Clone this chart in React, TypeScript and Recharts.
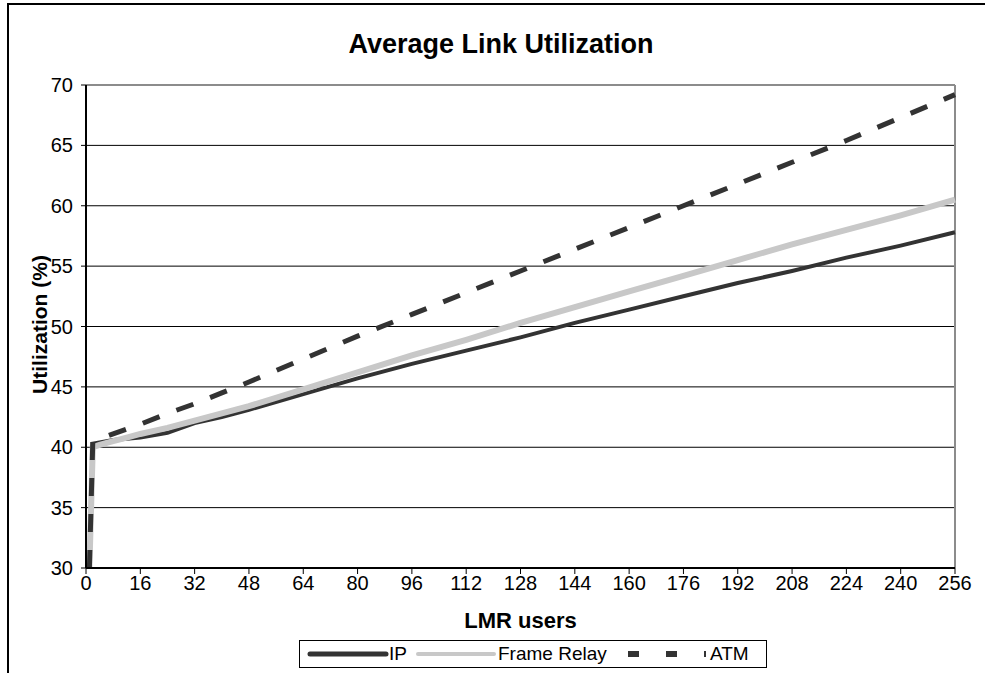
import { CartesianGrid, Line, LineChart, ReferenceLine, XAxis, YAxis } from 'recharts';

// Average link utilization (%) vs. number of LMR users, per transport.
const lmrUsers = [1, 2, 4, 8, 12, 16, 24, 32, 40, 48, 64, 80, 96, 112, 128, 144, 160, 176, 192, 208, 224, 240, 256];
const ipUtil = [30, 40.3, 40.4, 40.6, 40.7, 40.8, 41.2, 42.0, 42.5, 43.1, 44.4, 45.7, 46.9, 48.0, 49.1, 50.3, 51.4, 52.5, 53.6, 54.6, 55.7, 56.7, 57.8];
const frameRelayUtil = [30, 40.0, 40.2, 40.5, 40.8, 41.1, 41.6, 42.2, 42.8, 43.4, 44.8, 46.2, 47.6, 48.9, 50.3, 51.6, 52.9, 54.2, 55.5, 56.8, 58.0, 59.2, 60.5];
const atmUtil = [30, 40.5, 40.7, 41.1, 41.5, 41.9, 42.8, 43.6, 44.5, 45.4, 47.3, 49.2, 51.0, 52.8, 54.6, 56.4, 58.2, 60.0, 61.8, 63.6, 65.4, 67.3, 69.2];

const xTicks = [0, 16, 32, 48, 64, 80, 96, 112, 128, 144, 160, 176, 192, 208, 224, 240, 256];
const yTicks = [30, 35, 40, 45, 50, 55, 60, 65, 70];

const FONT = '"Liberation Sans", Arial, sans-serif';

// legend offsets (px inside the legend box): sample start/end, label start
const SERIES = [
  { key: 'ip', name: 'IP', color: '#333333', width: 4, legendWidth: 5, dash: undefined as string | undefined, lx1: 10, lx2: 86, tx: 89 },
  { key: 'fr', name: 'Frame Relay', color: '#c8c8c8', width: 6, legendWidth: 4, dash: undefined as string | undefined, lx1: 118, lx2: 194, tx: 198 },
  { key: 'atm', name: 'ATM', color: '#333333', width: 5, legendWidth: 6, dash: '18 18', lx1: 328, lx2: 406, tx: 410 },
];

const data = lmrUsers.map((u, i) => ({
  users: u,
  ip: ipUtil[i],
  fr: frameRelayUtil[i],
  atm: atmUtil[i],
}));

function LegendBox() {
  return (
    <div
      style={{
        position: 'absolute',
        left: 299,
        top: 640,
        width: 468,
        height: 28,
        border: '1px solid #000',
        boxSizing: 'border-box',
        fontFamily: FONT,
        fontSize: 19,
        color: '#000',
        background: '#fff',
      }}
    >
      <svg width={466} height={26} style={{ position: 'absolute', left: 0, top: 0 }}>
        {SERIES.map((s) => (
          <line
            key={s.key}
            x1={s.lx1}
            x2={s.lx2}
            y1={13}
            y2={13}
            stroke={s.color}
            strokeWidth={s.legendWidth}
            strokeDasharray={s.dash ? '11 27' : undefined}
            strokeLinecap={s.dash ? 'butt' : 'round'}
          />
        ))}
      </svg>
      {SERIES.map((s) => (
        <span key={s.key} style={{ position: 'absolute', left: s.tx, top: 2, whiteSpace: 'nowrap', lineHeight: '22px' }}>
          {s.name}
        </span>
      ))}
    </div>
  );
}

export default function App() {
  return (
    <div style={{ position: 'absolute', left: 0, top: 0, width: 985, height: 673, background: '#fff', overflow: 'hidden' }}>
      {/* chart frame, only top and left edges fall inside the view */}
      <div style={{ position: 'absolute', left: 7, top: 3, right: -10, bottom: -10, borderTop: '2px solid #000', borderLeft: '2px solid #000' }} />
      <div
        style={{
          position: 'absolute',
          left: 0,
          width: 1002,
          top: 29,
          textAlign: 'center',
          fontFamily: FONT,
          fontWeight: 'bold',
          fontSize: 27,
          color: '#000',
        }}
      >
        Average Link Utilization
      </div>
      <div style={{ position: 'absolute', left: 0, top: 0 }}>
        <LineChart width={985} height={673} data={data} margin={{ top: 85, right: 30, bottom: 0, left: 0 }}>
          <CartesianGrid horizontal vertical={false} stroke="#000" strokeWidth={1} />
          <XAxis
            dataKey="users"
            type="number"
            domain={[0, 256]}
            ticks={xTicks}
            interval={0}
            height={105}
            axisLine={{ stroke: '#000', strokeWidth: 2 }}
            tickLine={{ stroke: '#000' }}
            tickSize={6}
            tickMargin={2}
            tick={{ fill: '#000', fontSize: 20, fontFamily: FONT }}
            label={{
              value: 'LMR users',
              position: 'insideBottom',
              offset: 45,
              style: { fill: '#000', fontSize: 22, fontWeight: 'bold', fontFamily: FONT },
            }}
          />
          <YAxis
            type="number"
            domain={[30, 70]}
            ticks={yTicks}
            interval={0}
            width={86}
            axisLine={{ stroke: '#000', strokeWidth: 2 }}
            tickLine={{ stroke: '#000' }}
            tickSize={5}
            tickMargin={8}
            tick={{ fill: '#000', fontSize: 20, fontFamily: FONT }}
            label={({ viewBox }: any) => {
              const cx = 39;
              const cy = viewBox.y + viewBox.height / 2 - 2;
              return (
                <text
                  x={cx}
                  y={cy}
                  transform={`rotate(-90, ${cx}, ${cy})`}
                  textAnchor="middle"
                  dominantBaseline="central"
                  fill="#000"
                  fontSize={21}
                  fontWeight="bold"
                  fontFamily={FONT}
                >
                  Utilization (%)
                </text>
              );
            }}
          />
          <ReferenceLine y={70} stroke="#8c8c8c" strokeWidth={2} />
          <ReferenceLine x={256} stroke="#8c8c8c" strokeWidth={2} />
          {SERIES.map((s) => (
            <Line
              key={s.key}
              dataKey={s.key}
              name={s.name}
              type="linear"
              stroke={s.color}
              strokeWidth={s.width}
              strokeDasharray={s.dash}
              dot={false}
              activeDot={false}
              isAnimationActive={false}
            />
          ))}
        </LineChart>
      </div>
      <LegendBox />
    </div>
  );
}
